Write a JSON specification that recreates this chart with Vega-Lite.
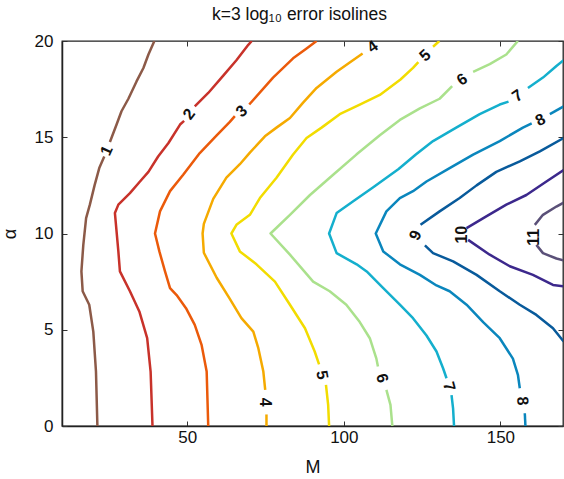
{
  "$schema": "https://vega.github.io/schema/vega-lite/v6.json",
  "autosize": {"type": "none"},
  "width": 501,
  "height": 385,
  "padding": {"left": 62, "top": 41, "right": 1, "bottom": 53},
  "background": "white",
  "config": {
    "view": {"stroke": "#222", "strokeWidth": 1.3},
    "font": "Liberation Sans",
    "axis": {"grid": false, "domainColor": "#222", "domainWidth": 1.5, "tickColor": "#333", "tickSize": -5, "labelFontSize": 17, "labelColor": "#111", "titleFontSize": 18, "titleFontWeight": "normal", "titleColor": "#111", "labelFont": "Liberation Sans", "titleFont": "Liberation Sans"}
  },
  "title": {"text": "k=3 log₁₀ error isolines", "fontSize": 17.5, "fontWeight": "normal", "font": "Liberation Sans", "color": "#111", "offset": 9, "dx": -13},
  "resolve": {"axis": {"x": "independent", "y": "independent"}},
  "datasets": {
    "lines": [
      {"level": 1, "seg": "1a", "M": 21.3, "alpha": 0},
      {"level": 1, "seg": "1a", "M": 20.85, "alpha": 2.83},
      {"level": 1, "seg": "1a", "M": 20.0, "alpha": 4.9},
      {"level": 1, "seg": "1a", "M": 18.7, "alpha": 6.3},
      {"level": 1, "seg": "1a", "M": 16.6, "alpha": 7.0},
      {"level": 1, "seg": "1a", "M": 16.2, "alpha": 8.03},
      {"level": 1, "seg": "1a", "M": 16.8, "alpha": 9.4},
      {"level": 1, "seg": "1a", "M": 17.7, "alpha": 10.8},
      {"level": 1, "seg": "1a", "M": 18.9, "alpha": 11.5},
      {"level": 1, "seg": "1a", "M": 20.4, "alpha": 12.5},
      {"level": 1, "seg": "1a", "M": 21.9, "alpha": 13.4},
      {"level": 1, "seg": "1a", "M": 23.5, "alpha": 14.0},
      {"level": 1, "seg": "1b", "M": 25.3, "alpha": 14.75},
      {"level": 1, "seg": "1b", "M": 27.4, "alpha": 15.65},
      {"level": 1, "seg": "1b", "M": 29.0, "alpha": 16.35},
      {"level": 1, "seg": "1b", "M": 31.2, "alpha": 17.0},
      {"level": 1, "seg": "1b", "M": 33.8, "alpha": 17.9},
      {"level": 1, "seg": "1b", "M": 36.0, "alpha": 18.6},
      {"level": 1, "seg": "1b", "M": 37.6, "alpha": 19.3},
      {"level": 1, "seg": "1b", "M": 39.5, "alpha": 20.0},

      {"level": 2, "seg": "2a", "M": 38.9, "alpha": 0},
      {"level": 2, "seg": "2a", "M": 38.3, "alpha": 2.83},
      {"level": 2, "seg": "2a", "M": 37.2, "alpha": 4.56},
      {"level": 2, "seg": "2a", "M": 34.7, "alpha": 5.95},
      {"level": 2, "seg": "2a", "M": 31.7, "alpha": 7.0},
      {"level": 2, "seg": "2a", "M": 28.5, "alpha": 8.03},
      {"level": 2, "seg": "2a", "M": 28.0, "alpha": 9.07},
      {"level": 2, "seg": "2a", "M": 26.9, "alpha": 11.06},
      {"level": 2, "seg": "2a", "M": 28.0, "alpha": 11.5},
      {"level": 2, "seg": "2a", "M": 31.7, "alpha": 12.1},
      {"level": 2, "seg": "2a", "M": 34.9, "alpha": 12.7},
      {"level": 2, "seg": "2a", "M": 37.6, "alpha": 13.2},
      {"level": 2, "seg": "2a", "M": 40.7, "alpha": 14.0},
      {"level": 2, "seg": "2a", "M": 44.0, "alpha": 14.7},
      {"level": 2, "seg": "2a", "M": 47.7, "alpha": 15.66},
      {"level": 2, "seg": "2a", "M": 49.0, "alpha": 15.85},
      {"level": 2, "seg": "2b", "M": 52.4, "alpha": 16.6},
      {"level": 2, "seg": "2b", "M": 56.7, "alpha": 17.3},
      {"level": 2, "seg": "2b", "M": 61.5, "alpha": 18.2},
      {"level": 2, "seg": "2b", "M": 65.7, "alpha": 19.0},
      {"level": 2, "seg": "2b", "M": 69.5, "alpha": 19.8},
      {"level": 2, "seg": "2b", "M": 70.6, "alpha": 20.0},

      {"level": 3, "seg": "3a", "M": 56.7, "alpha": 0},
      {"level": 3, "seg": "3a", "M": 56.2, "alpha": 2.83},
      {"level": 3, "seg": "3a", "M": 54.6, "alpha": 4.2},
      {"level": 3, "seg": "3a", "M": 52.4, "alpha": 5.25},
      {"level": 3, "seg": "3a", "M": 49.6, "alpha": 6.12},
      {"level": 3, "seg": "3a", "M": 46.6, "alpha": 6.8},
      {"level": 3, "seg": "3a", "M": 44.5, "alpha": 7.16},
      {"level": 3, "seg": "3a", "M": 42.9, "alpha": 8.03},
      {"level": 3, "seg": "3a", "M": 41.1, "alpha": 9.07},
      {"level": 3, "seg": "3a", "M": 39.7, "alpha": 10.0},
      {"level": 3, "seg": "3a", "M": 41.3, "alpha": 11.15},
      {"level": 3, "seg": "3a", "M": 44.5, "alpha": 12.2},
      {"level": 3, "seg": "3a", "M": 48.7, "alpha": 13.05},
      {"level": 3, "seg": "3a", "M": 54.0, "alpha": 14.18},
      {"level": 3, "seg": "3a", "M": 59.4, "alpha": 15.1},
      {"level": 3, "seg": "3a", "M": 63.6, "alpha": 15.8},
      {"level": 3, "seg": "3a", "M": 65.2, "alpha": 16.1},
      {"level": 3, "seg": "3b", "M": 69.8, "alpha": 16.7},
      {"level": 3, "seg": "3b", "M": 77.4, "alpha": 18.1},
      {"level": 3, "seg": "3b", "M": 83.8, "alpha": 19.1},
      {"level": 3, "seg": "3b", "M": 88.0, "alpha": 19.6},
      {"level": 3, "seg": "3b", "M": 91.3, "alpha": 20.0},

      {"level": 4, "seg": "4a", "M": 75.3, "alpha": 0},
      {"level": 4, "seg": "4a", "M": 75.3, "alpha": 0.6},
      {"level": 4, "seg": "4b", "M": 74.9, "alpha": 1.88},
      {"level": 4, "seg": "4b", "M": 74.3, "alpha": 2.83},
      {"level": 4, "seg": "4b", "M": 72.7, "alpha": 4.04},
      {"level": 4, "seg": "4b", "M": 71.1, "alpha": 4.9},
      {"level": 4, "seg": "4b", "M": 67.3, "alpha": 5.6},
      {"level": 4, "seg": "4b", "M": 63.6, "alpha": 6.6},
      {"level": 4, "seg": "4b", "M": 59.4, "alpha": 7.7},
      {"level": 4, "seg": "4b", "M": 55.3, "alpha": 9.0},
      {"level": 4, "seg": "4b", "M": 54.9, "alpha": 10.0},
      {"level": 4, "seg": "4b", "M": 55.3, "alpha": 10.5},
      {"level": 4, "seg": "4b", "M": 58.3, "alpha": 11.8},
      {"level": 4, "seg": "4b", "M": 62.5, "alpha": 12.9},
      {"level": 4, "seg": "4b", "M": 66.8, "alpha": 13.6},
      {"level": 4, "seg": "4b", "M": 70.0, "alpha": 14.2},
      {"level": 4, "seg": "4b", "M": 74.8, "alpha": 15.05},
      {"level": 4, "seg": "4b", "M": 78.5, "alpha": 15.5},
      {"level": 4, "seg": "4b", "M": 82.8, "alpha": 16.0},
      {"level": 4, "seg": "4b", "M": 87.0, "alpha": 16.8},
      {"level": 4, "seg": "4b", "M": 91.3, "alpha": 17.56},
      {"level": 4, "seg": "4b", "M": 97.7, "alpha": 18.4},
      {"level": 4, "seg": "4b", "M": 102.0, "alpha": 18.9},
      {"level": 4, "seg": "4b", "M": 106.0, "alpha": 19.35},

      {"level": 5, "seg": "5a", "M": 95.3, "alpha": 0},
      {"level": 5, "seg": "5a", "M": 95.0, "alpha": 1.1},
      {"level": 5, "seg": "5a", "M": 94.3, "alpha": 2.14},
      {"level": 5, "seg": "5b", "M": 92.1, "alpha": 3.2},
      {"level": 5, "seg": "5b", "M": 90.7, "alpha": 3.87},
      {"level": 5, "seg": "5b", "M": 87.6, "alpha": 5.08},
      {"level": 5, "seg": "5b", "M": 82.8, "alpha": 6.3},
      {"level": 5, "seg": "5b", "M": 78.0, "alpha": 7.5},
      {"level": 5, "seg": "5b", "M": 72.1, "alpha": 8.4},
      {"level": 5, "seg": "5b", "M": 66.8, "alpha": 9.07},
      {"level": 5, "seg": "5b", "M": 64.1, "alpha": 10.0},
      {"level": 5, "seg": "5b", "M": 65.7, "alpha": 10.45},
      {"level": 5, "seg": "5b", "M": 70.0, "alpha": 10.97},
      {"level": 5, "seg": "5b", "M": 73.2, "alpha": 11.84},
      {"level": 5, "seg": "5b", "M": 78.5, "alpha": 12.9},
      {"level": 5, "seg": "5b", "M": 83.8, "alpha": 14.1},
      {"level": 5, "seg": "5b", "M": 88.1, "alpha": 14.96},
      {"level": 5, "seg": "5b", "M": 92.9, "alpha": 15.5},
      {"level": 5, "seg": "5b", "M": 98.7, "alpha": 16.2},
      {"level": 5, "seg": "5b", "M": 105.1, "alpha": 16.7},
      {"level": 5, "seg": "5b", "M": 111.5, "alpha": 17.2},
      {"level": 5, "seg": "5b", "M": 118.1, "alpha": 18.0},
      {"level": 5, "seg": "5b", "M": 122.1, "alpha": 18.6},
      {"level": 5, "seg": "5b", "M": 123.8, "alpha": 18.9},
      {"level": 5, "seg": "5c", "M": 128.5, "alpha": 19.7},
      {"level": 5, "seg": "5c", "M": 130.5, "alpha": 20.0},

      {"level": 6, "seg": "6a", "M": 115.5, "alpha": 0},
      {"level": 6, "seg": "6a", "M": 114.9, "alpha": 1.1},
      {"level": 6, "seg": "6a", "M": 113.6, "alpha": 1.88},
      {"level": 6, "seg": "6b", "M": 110.9, "alpha": 3.09},
      {"level": 6, "seg": "6b", "M": 110.4, "alpha": 3.5},
      {"level": 6, "seg": "6b", "M": 108.3, "alpha": 4.56},
      {"level": 6, "seg": "6b", "M": 105.1, "alpha": 5.4},
      {"level": 6, "seg": "6b", "M": 100.8, "alpha": 6.3},
      {"level": 6, "seg": "6b", "M": 95.5, "alpha": 7.0},
      {"level": 6, "seg": "6b", "M": 90.2, "alpha": 7.5},
      {"level": 6, "seg": "6b", "M": 82.8, "alpha": 8.9},
      {"level": 6, "seg": "6b", "M": 76.6, "alpha": 10.0},
      {"level": 6, "seg": "6b", "M": 82.8, "alpha": 10.97},
      {"level": 6, "seg": "6b", "M": 89.2, "alpha": 12.0},
      {"level": 6, "seg": "6b", "M": 96.6, "alpha": 13.05},
      {"level": 6, "seg": "6b", "M": 104.0, "alpha": 14.1},
      {"level": 6, "seg": "6b", "M": 111.5, "alpha": 15.1},
      {"level": 6, "seg": "6b", "M": 117.9, "alpha": 15.9},
      {"level": 6, "seg": "6b", "M": 124.3, "alpha": 16.5},
      {"level": 6, "seg": "6b", "M": 130.6, "alpha": 17.0},
      {"level": 6, "seg": "6b", "M": 134.6, "alpha": 17.65},
      {"level": 6, "seg": "6c", "M": 141.3, "alpha": 18.4},
      {"level": 6, "seg": "6c", "M": 146.6, "alpha": 18.8},
      {"level": 6, "seg": "6c", "M": 151.9, "alpha": 19.3},
      {"level": 6, "seg": "6c", "M": 155.6, "alpha": 20.0},

      {"level": 7, "seg": "7a", "M": 135.2, "alpha": 0},
      {"level": 7, "seg": "7a", "M": 134.9, "alpha": 0.9},
      {"level": 7, "seg": "7a", "M": 134.4, "alpha": 1.6},
      {"level": 7, "seg": "7b", "M": 132.8, "alpha": 2.48},
      {"level": 7, "seg": "7b", "M": 131.7, "alpha": 3.0},
      {"level": 7, "seg": "7b", "M": 129.6, "alpha": 3.87},
      {"level": 7, "seg": "7b", "M": 126.4, "alpha": 4.7},
      {"level": 7, "seg": "7b", "M": 122.1, "alpha": 5.6},
      {"level": 7, "seg": "7b", "M": 117.9, "alpha": 6.3},
      {"level": 7, "seg": "7b", "M": 112.6, "alpha": 7.16},
      {"level": 7, "seg": "7b", "M": 107.3, "alpha": 8.03},
      {"level": 7, "seg": "7b", "M": 104.1, "alpha": 8.4},
      {"level": 7, "seg": "7b", "M": 97.7, "alpha": 8.98},
      {"level": 7, "seg": "7b", "M": 95.3, "alpha": 10.0},
      {"level": 7, "seg": "7b", "M": 97.7, "alpha": 11.06},
      {"level": 7, "seg": "7b", "M": 103.0, "alpha": 11.67},
      {"level": 7, "seg": "7b", "M": 109.4, "alpha": 12.4},
      {"level": 7, "seg": "7b", "M": 117.5, "alpha": 13.35},
      {"level": 7, "seg": "7b", "M": 123.0, "alpha": 14.1},
      {"level": 7, "seg": "7b", "M": 128.5, "alpha": 14.8},
      {"level": 7, "seg": "7b", "M": 135.9, "alpha": 15.5},
      {"level": 7, "seg": "7b", "M": 143.4, "alpha": 16.2},
      {"level": 7, "seg": "7b", "M": 149.8, "alpha": 16.7},
      {"level": 7, "seg": "7b", "M": 152.6, "alpha": 16.85},
      {"level": 7, "seg": "7c", "M": 158.8, "alpha": 17.56},
      {"level": 7, "seg": "7c", "M": 163.6, "alpha": 18.1},
      {"level": 7, "seg": "7c", "M": 167.9, "alpha": 18.7},
      {"level": 7, "seg": "7c", "M": 170.2, "alpha": 19.0},

      {"level": 8, "seg": "8a", "M": 158.0, "alpha": 0},
      {"level": 8, "seg": "8a", "M": 157.8, "alpha": 0.66},
      {"level": 8, "seg": "8b", "M": 156.2, "alpha": 1.96},
      {"level": 8, "seg": "8b", "M": 155.6, "alpha": 2.66},
      {"level": 8, "seg": "8b", "M": 154.0, "alpha": 3.5},
      {"level": 8, "seg": "8b", "M": 149.8, "alpha": 4.56},
      {"level": 8, "seg": "8b", "M": 144.5, "alpha": 5.4},
      {"level": 8, "seg": "8b", "M": 139.2, "alpha": 6.3},
      {"level": 8, "seg": "8b", "M": 133.8, "alpha": 7.0},
      {"level": 8, "seg": "8b", "M": 129.6, "alpha": 7.3},
      {"level": 8, "seg": "8b", "M": 124.3, "alpha": 7.85},
      {"level": 8, "seg": "8b", "M": 117.9, "alpha": 8.4},
      {"level": 8, "seg": "8b", "M": 112.6, "alpha": 9.07},
      {"level": 8, "seg": "8b", "M": 110.2, "alpha": 10.0},
      {"level": 8, "seg": "8b", "M": 113.6, "alpha": 11.15},
      {"level": 8, "seg": "8b", "M": 117.9, "alpha": 11.84},
      {"level": 8, "seg": "8b", "M": 122.1, "alpha": 12.2},
      {"level": 8, "seg": "8b", "M": 126.4, "alpha": 12.7},
      {"level": 8, "seg": "8b", "M": 133.8, "alpha": 13.4},
      {"level": 8, "seg": "8b", "M": 141.3, "alpha": 14.1},
      {"level": 8, "seg": "8b", "M": 149.8, "alpha": 14.8},
      {"level": 8, "seg": "8b", "M": 157.2, "alpha": 15.5},
      {"level": 8, "seg": "8b", "M": 160.0, "alpha": 15.72},
      {"level": 8, "seg": "8c", "M": 165.8, "alpha": 16.2},
      {"level": 8, "seg": "8c", "M": 170.2, "alpha": 16.6},

      {"level": 9, "seg": "9a", "M": 124.5, "alpha": 10.45},
      {"level": 9, "seg": "9a", "M": 130.6, "alpha": 11.15},
      {"level": 9, "seg": "9a", "M": 137.0, "alpha": 11.84},
      {"level": 9, "seg": "9a", "M": 142.4, "alpha": 12.5},
      {"level": 9, "seg": "9a", "M": 148.7, "alpha": 13.2},
      {"level": 9, "seg": "9a", "M": 156.2, "alpha": 13.75},
      {"level": 9, "seg": "9a", "M": 162.6, "alpha": 14.27},
      {"level": 9, "seg": "9a", "M": 170.2, "alpha": 14.96},
      {"level": 9, "seg": "9b", "M": 125.9, "alpha": 9.38},
      {"level": 9, "seg": "9b", "M": 128.5, "alpha": 8.98},
      {"level": 9, "seg": "9b", "M": 134.9, "alpha": 8.55},
      {"level": 9, "seg": "9b", "M": 142.4, "alpha": 7.85},
      {"level": 9, "seg": "9b", "M": 149.8, "alpha": 7.0},
      {"level": 9, "seg": "9b", "M": 156.2, "alpha": 6.3},
      {"level": 9, "seg": "9b", "M": 161.5, "alpha": 5.77},
      {"level": 9, "seg": "9b", "M": 166.8, "alpha": 5.08},
      {"level": 9, "seg": "9b", "M": 170.2, "alpha": 4.39},

      {"level": 10, "seg": "10a", "M": 139.2, "alpha": 10.28},
      {"level": 10, "seg": "10a", "M": 145.5, "alpha": 10.89},
      {"level": 10, "seg": "10a", "M": 151.9, "alpha": 11.5},
      {"level": 10, "seg": "10a", "M": 158.3, "alpha": 12.0},
      {"level": 10, "seg": "10a", "M": 164.7, "alpha": 12.7},
      {"level": 10, "seg": "10a", "M": 170.2, "alpha": 13.3},
      {"level": 10, "seg": "10b", "M": 139.7, "alpha": 9.67},
      {"level": 10, "seg": "10b", "M": 146.6, "alpha": 8.9},
      {"level": 10, "seg": "10b", "M": 153.0, "alpha": 8.3},
      {"level": 10, "seg": "10b", "M": 160.4, "alpha": 7.85},
      {"level": 10, "seg": "10b", "M": 166.8, "alpha": 7.33},
      {"level": 10, "seg": "10b", "M": 170.2, "alpha": 7.25},

      {"level": 11, "seg": "11a", "M": 161.0, "alpha": 10.45},
      {"level": 11, "seg": "11a", "M": 163.6, "alpha": 10.97},
      {"level": 11, "seg": "11a", "M": 167.9, "alpha": 11.4},
      {"level": 11, "seg": "11a", "M": 170.2, "alpha": 11.6},
      {"level": 11, "seg": "11b", "M": 161.5, "alpha": 9.41},
      {"level": 11, "seg": "11b", "M": 163.6, "alpha": 8.98},
      {"level": 11, "seg": "11b", "M": 167.9, "alpha": 8.7},
      {"level": 11, "seg": "11b", "M": 170.2, "alpha": 8.6}
    ],
    "labels": [
      {"label": "1", "M": 24.3, "alpha": 14.3, "angle": -66},
      {"label": "2", "M": 50.6, "alpha": 16.2, "angle": -53},
      {"label": "3", "M": 67.4, "alpha": 16.35, "angle": -42},
      {"label": "4", "M": 109.2, "alpha": 19.7, "angle": -36},
      {"label": "5", "M": 126.0, "alpha": 19.25, "angle": -42},
      {"label": "6", "M": 137.8, "alpha": 18.0, "angle": -34},
      {"label": "7", "M": 155.5, "alpha": 17.15, "angle": -35},
      {"label": "8", "M": 162.8, "alpha": 15.9, "angle": -27},
      {"label": "9", "M": 122.9, "alpha": 9.9, "angle": -65},
      {"label": "10", "M": 137.6, "alpha": 9.94, "angle": -90},
      {"label": "11", "M": 160.6, "alpha": 9.8, "angle": -90},
      {"label": "4", "M": 74.8, "alpha": 1.23, "angle": 90},
      {"label": "5", "M": 93.0, "alpha": 2.65, "angle": 80},
      {"label": "6", "M": 112.2, "alpha": 2.48, "angle": 75},
      {"label": "7", "M": 133.6, "alpha": 2.05, "angle": 75},
      {"label": "8", "M": 157.0, "alpha": 1.3, "angle": 85}
    ]
  },
  "layer": [
    {
      "data": {"name": "lines"},
      "mark": {"type": "line", "strokeWidth": 2.5, "clip": true, "strokeJoin": "round"},
      "encoding": {
        "x": {"field": "M", "type": "quantitative", "scale": {"domain": [10, 170], "nice": false, "zero": false}, "axis": {"orient": "bottom", "title": "M", "values": [50, 100, 150], "labelPadding": 8, "titlePadding": 13}},
        "y": {"field": "alpha", "type": "quantitative", "scale": {"domain": [0, 20], "nice": false}, "axis": {"orient": "left", "title": "α", "values": [0, 5, 10, 15, 20], "labelPadding": 14, "titlePadding": 15}},
        "detail": {"field": "seg"},
        "order": {"value": null},
        "color": {"field": "level", "type": "ordinal", "legend": null, "scale": {"domain": [1, 2, 3, 4, 5, 6, 7, 8, 9, 10, 11], "range": ["#8c5a48", "#c8322a", "#eb5a0a", "#f5aa00", "#f2dc00", "#aae18c", "#14afcd", "#0a86bd", "#085a9b", "#3c288c", "#5a5078"]}}
      }
    },
    {
      "data": {"name": "labels"},
      "mark": {"type": "text", "fontSize": 16, "fontWeight": "bold", "font": "Liberation Sans", "color": "#111", "align": "center", "baseline": "middle"},
      "encoding": {
        "x": {"field": "M", "type": "quantitative", "axis": {"orient": "top", "labels": false, "title": null, "domain": false, "values": [50, 100, 150]}},
        "y": {"field": "alpha", "type": "quantitative", "axis": {"orient": "right", "labels": false, "title": null, "domain": false, "values": [0, 5, 10, 15, 20]}},
        "text": {"field": "label"},
        "angle": {"field": "angle", "type": "quantitative", "scale": null}
      }
    }
  ]
}
